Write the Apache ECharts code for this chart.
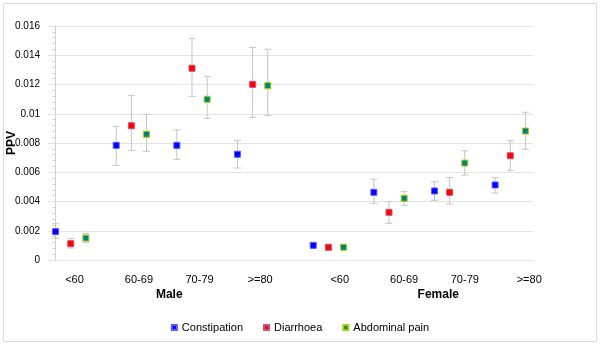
<!DOCTYPE html>
<html>
<head>
<meta charset="utf-8">
<script src="https://cdn.jsdelivr.net/npm/echarts@6/dist/echarts.min.js"></script>
<style>
  html, body { margin: 0; padding: 0; background: #fff; }
  #chart { width: 600px; height: 345px; }
</style>
</head>
<body>
<div id="chart"></div>
<script>
(function () {
    "use strict";

    /*---- data ----*/
    var sexes = ['Male', 'Female'];
    var ageGroups = ['<60', '60-69', '70-79', '>=80'];
    var seriesNames = ['Constipation', 'Diarrhoea', 'Abdominal pain'];
    var yTicks = [0, 0.002, 0.004, 0.006, 0.008, 0.01, 0.012, 0.014, 0.016];

    // PPV per age group: Male first 4, then Female 4
    var constipation = [0.00194, 0.00784, 0.00784, 0.00723, 0.00100, 0.00463, 0.00472, 0.00513];
    var constipationLow = [0.00148, 0.00647, 0.00688, 0.00629, 0.00090, 0.00388, 0.00408, 0.00458];
    var constipationHigh = [0.00248, 0.00914, 0.00889, 0.00818, 0.00110, 0.00552, 0.00535, 0.00563];

    var diarrhoea = [0.00112, 0.00918, 0.01311, 0.01201, 0.00087, 0.00326, 0.00463, 0.00713];
    var diarrhoeaLow = [0.00082, 0.00748, 0.01119, 0.00976, 0.00066, 0.00251, 0.00383, 0.00613];
    var diarrhoeaHigh = [0.00146, 0.01126, 0.01516, 0.01454, 0.00098, 0.00399, 0.00563, 0.00816];

    var abdominalPain = [0.00150, 0.00860, 0.01099, 0.01192, 0.00087, 0.00422, 0.00663, 0.00882];
    var abdominalPainLow = [0.00121, 0.00743, 0.00969, 0.00987, 0.00078, 0.00374, 0.00581, 0.00757];
    var abdominalPainHigh = [0.00182, 0.00996, 0.01256, 0.01441, 0.00096, 0.00470, 0.00747, 0.01010];

    /*---- layout of the x slots ----*/
    var values = [constipation, diarrhoea, abdominalPain];
    var lows = [constipationLow, diarrhoeaLow, abdominalPainLow];
    var highs = [constipationHigh, diarrhoeaHigh, abdominalPainHigh];
    var colors = ['#0000ff', '#ff0000', '#00807f'];
    var borders = ['#5a5aff', '#d0507a', '#a8d200'];

    // slot of a point: 4 per age group, sexes separated by one extra slot
    function slot(i, s) {
        var sex = Math.floor(i / ageGroups.length);
        var g = i % ageGroups.length;
        return sex * 17 + g * 4 + s;
    }

    // label slots (quarter units) under each group
    var ageLabelAt = {};
    [1.25, 5.5, 9.5, 13.5, 18.75, 23, 27, 31.25].forEach(function (p, k) {
        ageLabelAt[Math.round(p * 4)] = ageGroups[k % ageGroups.length];
    });
    var sexLabelAt = {};
    [7.5, 25.25].forEach(function (p, k) {
        sexLabelAt[Math.round(p * 4)] = sexes[k];
    });

    var series = [];
    var errSeries = [];
    seriesNames.forEach(function (name, s) {
        var pts = [], errs = [];
        values[s].forEach(function (v, i) {
            pts.push([slot(i, s), v]);
            errs.push([slot(i, s), lows[s][i], highs[s][i]]);
        });
        series.push({
            name: name,
            type: 'scatter',
            symbol: 'rect',
            symbolSize: 6,
            z: 3,
            itemStyle: { color: colors[s], borderColor: borders[s], borderWidth: 1, opacity: 1 },
            emphasis: { disabled: true },
            data: pts
        });
        errSeries.push({
            type: 'custom',
            z: 2,
            silent: true,
            renderItem: function (params, api) {
                var top = api.coord([api.value(0), api.value(2)]);
                var bot = api.coord([api.value(0), api.value(1)]);
                var w = 3.5;
                var st = { stroke: '#c4c4c4', lineWidth: 1 };
                return {
                    type: 'group',
                    children: [
                        { type: 'line', shape: { x1: top[0], y1: top[1], x2: bot[0], y2: bot[1] }, style: st },
                        { type: 'line', shape: { x1: top[0] - w, y1: top[1], x2: top[0] + w, y2: top[1] }, style: st },
                        { type: 'line', shape: { x1: bot[0] - w, y1: bot[1], x2: bot[0] + w, y2: bot[1] }, style: st }
                    ]
                };
            },
            encode: { x: 0, y: [1, 2] },
            data: errs
        });
    });

    var font = 'Liberation Sans, Arial, sans-serif';
    var hiddenAxis = {
        position: 'bottom',
        axisLine: { show: false },
        axisTick: { show: false },
        splitLine: { show: false }
    };

    var option = {
        animation: false,
        textStyle: { fontFamily: font },
        grid: { left: 48, right: 67, top: 26, bottom: 85, outerBoundsMode: 'none', containLabel: false },
        legend: {
            data: seriesNames,
            bottom: 7,
            left: 'center',
            icon: 'rect',
            itemWidth: 5,
            itemHeight: 5,
            itemGap: 20,
            textStyle: { fontSize: 11, color: '#000', fontFamily: font }
        },
        xAxis: [
            Object.assign({ type: 'value', min: -0.5, max: 31.5, axisLabel: { show: false } }, hiddenAxis),
            Object.assign({
                type: 'value', min: -0.5, max: 31.5, interval: 0.25,
                axisLabel: {
                    margin: 14, fontSize: 11, color: '#000', fontFamily: font,
                    formatter: function (v) { return ageLabelAt[Math.round(v * 4)] || ''; }
                }
            }, hiddenAxis),
            Object.assign({
                type: 'value', min: -0.5, max: 31.5, interval: 0.25,
                axisLabel: {
                    margin: 29, fontSize: 12, fontWeight: 'bold', color: '#000', fontFamily: font,
                    formatter: function (v) { return sexLabelAt[Math.round(v * 4)] || ''; }
                }
            }, hiddenAxis)
        ],
        yAxis: {
            type: 'value',
            min: yTicks[0],
            max: yTicks[yTicks.length - 1],
            interval: yTicks[1] - yTicks[0],
            name: 'PPV',
            nameLocation: 'middle',
            nameRotate: 90,
            nameGap: 30,
            nameMoveOverlap: false,
            nameTextStyle: { fontSize: 12, fontWeight: 'bold', color: '#000', fontFamily: font },
            axisLine: { show: true, lineStyle: { color: '#d0d0d0' } },
            axisTick: { show: false },
            minorTick: { show: true, splitNumber: 5, length: 3, lineStyle: { color: '#d0d0d0' } },
            splitLine: { lineStyle: { color: '#e3e3e3' } },
            axisLabel: {
                margin: 8, fontSize: 10, color: '#000', fontFamily: font,
                formatter: function (v) { return String(+v.toFixed(3)); }
            }
        },
        graphic: [{
            type: 'rect',
            silent: true,
            shape: { x: 3.5, y: 3.5, width: 593, height: 338 },
            style: { fill: 'none', stroke: '#d9d9d9', lineWidth: 1 }
        }],
        series: errSeries.concat(series)
    };

    var chart = echarts.init(document.getElementById('chart'), null, { renderer: 'canvas' });
    chart.setOption(option);
})();
</script>
</body>
</html>
